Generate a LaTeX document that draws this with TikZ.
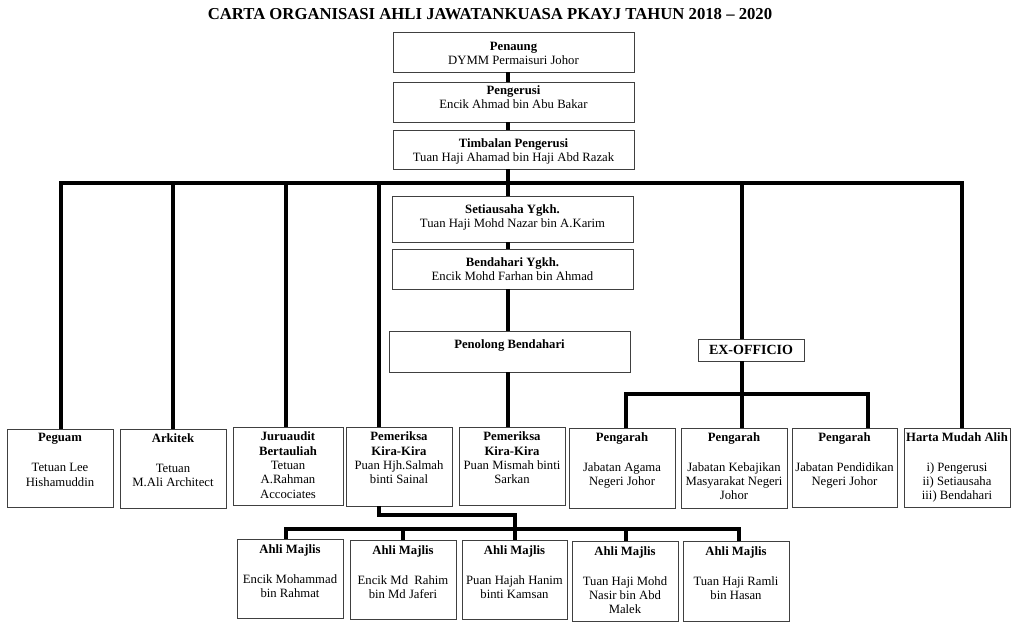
\documentclass[tikz,border=0pt]{standalone}
\usepackage{fontspec}
\setmainfont{Liberation Serif}
\begin{document}
\begin{tikzpicture}[x=1pt,y=-1pt,
  boxst/.style={draw=black!75, line width=1pt, fill=none, inner sep=0pt, outer sep=0pt},
  txt/.style={align=center, inner sep=0pt, font=\fontsize{12.7}{14.3}\selectfont},
  conn/.style={draw=black, line width=3.2pt},
  ttl/.style={font=\fontsize{16.7}{18}\selectfont\bfseries, inner sep=0pt}]
\useasboundingbox[fill=white] (0,0) rectangle (1024,632);
\newcommand\obox[7]{%
  \node[boxst, minimum width={#4-#2}, minimum height={#5-#3}, anchor=north west] (#1) at (#2,#3) {};
  \node[txt, anchor=north] (#1t) at ([yshift=-#6pt]#1.north) {#7};}
% title
\node[ttl] (title) at (490,14) {CARTA ORGANISASI AHLI JAWATANKUASA PKAYJ TAHUN 2018 -- 2020};
% coordinates for connector positions
\coordinate (sp) at (508,0);
\coordinate (busR) at (962,183);
\coordinate (d1) at (61,183);
\coordinate (d2) at (173,183);
\coordinate (d3) at (286,183);
\coordinate (d4) at (379,183);
\coordinate (e1) at (742,183);
\coordinate (x1) at (626,394);
\coordinate (x3) at (868,394);
\coordinate (a1) at (286,529);
\coordinate (a2) at (403,529);
\coordinate (a3) at (515,515);
\coordinate (a4) at (626,529);
\coordinate (a5) at (739,529);
% upper boxes
\obox{pen}{393}{32}{634}{72}{9.5}{\textbf{Penaung}\\DYMM Permaisuri Johor}
\obox{pgr}{393}{82}{634}{122}{3.5}{\textbf{Pengerusi}\\Encik Ahmad bin Abu Bakar}
\obox{tim}{393}{130}{634}{169}{8}{\textbf{Timbalan Pengerusi}\\Tuan Haji Ahamad bin Haji Abd Razak}
\obox{set}{392}{196}{633}{242}{8}{\textbf{Setiausaha Ygkh.}\\Tuan Haji Mohd Nazar bin A.Karim}
\obox{ben}{392}{249}{633}{289}{8.5}{\textbf{Bendahari Ygkh.}\\Encik Mohd Farhan bin Ahmad}
\obox{pol}{389}{331}{630}{372}{8.8}{\textbf{Penolong Bendahari}}
\node[boxst, minimum width=106, minimum height=22, font=\fontsize{14}{16}\selectfont\bfseries] (exo) at (751,350) {EX-OFFICIO};
% middle row
\obox{peg}{7}{429}{113}{507}{4}{\textbf{Peguam}\\[16pt]Tetuan Lee\\Hishamuddin}
\obox{ark}{120}{429}{226}{508}{4}{\textbf{Arkitek}\\[16pt]Tetuan\\M.Ali Architect}
\obox{jur}{233}{427}{343}{505}{4.8}{\textbf{Juruaudit}\\\textbf{Bertauliah}\\Tetuan\\A.Rahman\\Accociates}
\obox{pk1}{346}{427}{452}{506}{4.8}{\textbf{Pemeriksa}\\\textbf{Kira-Kira}\\Puan Hjh.Salmah\\binti Sainal}
\obox{pk2}{459}{427}{565}{505}{4.8}{\textbf{Pemeriksa}\\\textbf{Kira-Kira}\\Puan Mismah binti\\Sarkan}
\obox{pg1}{569}{428}{675}{508}{4}{\textbf{Pengarah}\\[16pt]Jabatan Agama\\Negeri Johor}
\obox{pg2}{681}{428}{787}{508}{4}{\textbf{Pengarah}\\[16pt]Jabatan Kebajikan\\Masyarakat Negeri\\Johor}
\obox{pg3}{792}{428}{897}{507}{4}{\textbf{Pengarah}\\[16pt]Jabatan Pendidikan\\Negeri Johor}
\obox{har}{904}{428}{1010}{507}{4}{\textbf{Harta Mudah Alih}\\[16pt]i) Pengerusi\\ii) Setiausaha\\iii) Bendahari}
% bottom row
\obox{am1}{237}{539}{343}{618}{5.8}{\textbf{Ahli Majlis}\\[15pt]Encik Mohammad\\bin Rahmat}
\obox{am2}{350}{540}{456}{619}{5.8}{\textbf{Ahli Majlis}\\[15pt]Encik Md\ \ Rahim\\bin Md Jaferi}
\obox{am3}{462}{540}{567}{619}{5.8}{\textbf{Ahli Majlis}\\[15pt]Puan Hajah Hanim\\binti Kamsan}
\obox{am4}{572}{541}{678}{621}{5.8}{\textbf{Ahli Majlis}\\[15pt]Tuan Haji Mohd\\Nasir bin Abd\\Malek}
\obox{am5}{683}{541}{789}{621}{5.8}{\textbf{Ahli Majlis}\\[15pt]Tuan Haji Ramli\\bin Hasan}
% spine
\draw[conn] (pen.south -| sp) -- (pgr.north -| sp);
\draw[conn] (pgr.south -| sp) -- (tim.north -| sp);
\draw[conn] (tim.south -| sp) -- (set.north -| sp);
\draw[conn] (set.south -| sp) -- (ben.north -| sp);
\draw[conn] (ben.south -| sp) -- (pol.north -| sp);
\draw[conn] (pol.south -| sp) -- (pk2.north -| sp);
% main bus
\draw[conn] (peg.north -| d1) |- (busR) -- (har.north -| busR);
\draw[conn] (d2) -- (ark.north -| d2);
\draw[conn] (d3) -- (jur.north -| d3);
\draw[conn] (d4) -- (pk1.north -| d4);
% ex-officio
\draw[conn] (e1) -- (exo.north -| e1);
\draw[conn] (exo.south -| e1) -- (pg2.north -| e1);
\draw[conn] (pg1.north -| x1) |- (x3) -- (pg3.north -| x3);
% ahli majlis
\draw[conn] (pk1.south -| d4) |- (a3) -- (am3.north -| a3);
\draw[conn] (am1.north -| a1) |- (a5) -- (am5.north -| a5);
\draw[conn] (a2) -- (am2.north -| a2);
\draw[conn] (a4) -- (am4.north -| a4);
\end{tikzpicture}
\end{document}
